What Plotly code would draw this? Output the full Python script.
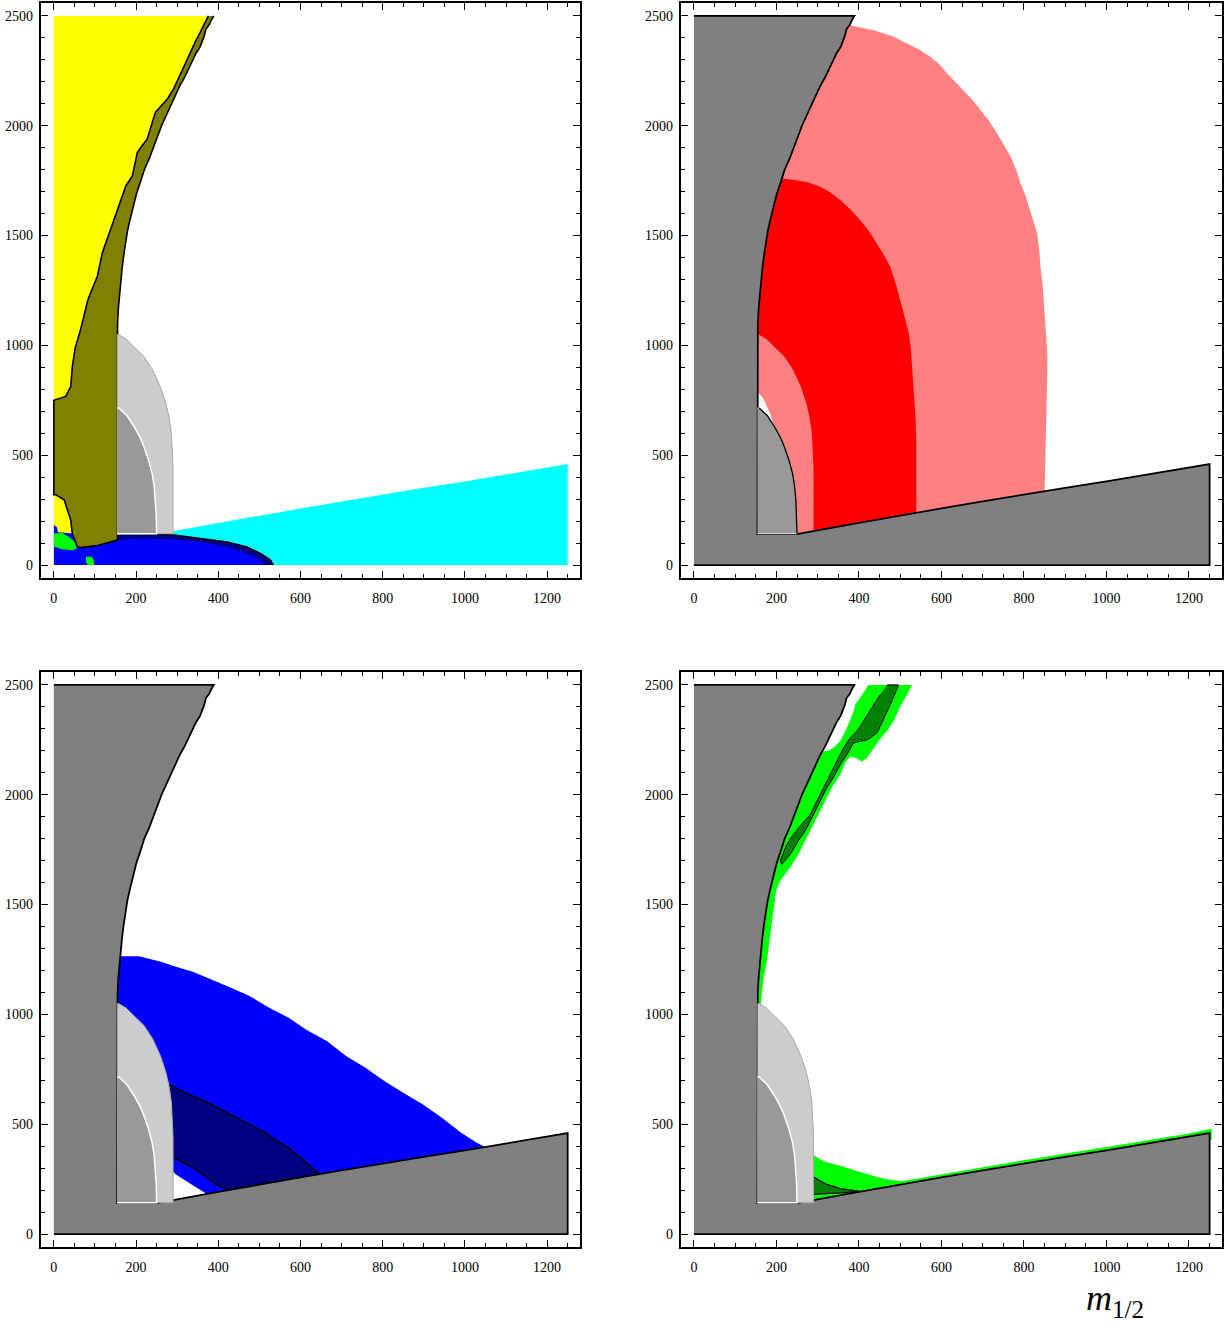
import plotly.graph_objects as go

# ---------------- tick labels ----------------
x_ticks = [0, 200, 400, 600, 800, 1000, 1200]
y_ticks = [0, 500, 1000, 1500, 2000, 2500]

# ---------------- shared boundaries ----------------
# edge of the region without electroweak symmetry breaking (top -> bottom)
ewsb_x = [389, 383, 378, 370, 366, 356, 346, 335, 326, 318, 306, 298, 284, 272, 262, 252,
          243, 232, 220, 210, 201, 193, 185, 179, 174, 170, 166, 163, 160, 157, 155, 154]
ewsb_y = [2500, 2480, 2460, 2440, 2410, 2360, 2330, 2290, 2250, 2220, 2180, 2150, 2090, 2040, 2000, 1950,
          1910, 1850, 1800, 1740, 1690, 1630, 1570, 1520, 1460, 1410, 1350, 1300, 1240, 1170, 1100, 1050]

# edge of the stau-LSP wedge (left -> right)
stau_x = [250, 300, 400, 500, 600, 700, 800, 900, 1000, 1100, 1200, 1250]
stau_y = [141, 158, 192, 226, 258, 290, 322, 352, 381, 413, 444, 460]

# light-grey and mid-grey excluded zones
lg_x = [154, 158, 175, 195, 219, 240, 259, 272, 280, 286, 288, 290, 290, 154]
lg_y = [1049, 1049, 1030, 995, 950, 890, 813, 740, 677, 600, 525, 440, 143, 143]
mg_x = [154, 158, 178, 195, 210, 219, 230, 239, 244, 247, 249, 250, 154]
mg_y = [715, 715, 680, 631, 580, 540, 480, 418, 360, 297, 230, 143, 143]

# ---------------- panel 1 (top left) ----------------
olive_left_x = [376, 366, 356, 346, 336, 322, 308, 292, 276, 262, 247, 237, 227, 215, 203, 191, 175,
                158, 138, 118, 106, 90, 83, 65, 52, 45, 41, 29, 5, 0, 0, 5, 25, 37, 41, 45, 57]
olive_left_y = [2500, 2460, 2425, 2390, 2349, 2290, 2228, 2170, 2121, 2090, 2061, 2000, 1939, 1910, 1878, 1772, 1726,
                1635, 1528, 1422, 1316, 1240, 1209, 1072, 990, 905, 813, 768, 753, 750, 320, 320, 297, 220, 205, 144, 83]
olive_bottom_x = [66, 106, 155]
olive_bottom_y = [80, 89, 114]

blue_tl_x = [0, 0, 7, 10, 45, 57, 66, 106, 155, 211, 292, 357, 422, 470, 503, 513]
blue_tl_y = [0, 182, 175, 150, 144, 83, 80, 89, 114, 121, 117, 105, 83, 53, 23, 0]
navy_tl_x = [155, 211, 292, 357, 422, 470, 503, 527, 534]
navy_tl_y = [147, 144, 137, 121, 105, 83, 53, 23, 0]
green_tl_x = [0, 8, 20, 35, 48, 58, 52, 45, 20, 0]
green_tl_y = [144, 146, 146, 130, 112, 80, 72, 68, 72, 85]
speck_x = [78, 92, 97, 98, 82, 78]
speck_y = [38, 38, 25, 0, 0, 15]

# ---------------- panel 2 (top right) ----------------
pink_x = [154, 154, 375, 436, 480, 517, 548, 573, 596, 614, 634, 654, 675, 695, 716, 735, 752, 768, 781,
          792, 803, 812, 822, 832, 837, 840, 845, 848, 851, 853, 856, 857, 856, 855, 853, 850, 850, 154]
pink_y = [0, 2458, 2458, 2435, 2408, 2375, 2345, 2314, 2278, 2238, 2200, 2162, 2118, 2071, 2020, 1965, 1912, 1859, 1800,
          1737, 1685, 1631, 1570, 1510, 1435, 1358, 1282, 1206, 1130, 1055, 980, 903, 827, 751, 599, 341, 0, 0]
red_x = [154, 154, 213, 249, 280, 306, 332, 355, 380, 403, 425, 444, 461, 476, 489, 500, 511, 521, 526, 529,
         533, 537, 539, 539, 539, 154]
red_y = [0, 1760, 1760, 1752, 1740, 1722, 1695, 1661, 1618, 1570, 1518, 1464, 1411, 1358, 1282, 1206, 1130, 1055, 980, 903,
         790, 675, 560, 447, 0, 0]
sliver_x = [154, 154, 168, 185, 195, 158]
sliver_y = [715, 790, 760, 690, 631, 715]

# ---------------- panel 3 (bottom left) ----------------
blue_bl_x = [154, 160, 207, 263, 291, 338, 393, 431, 477, 524, 571, 617, 664, 711, 757, 804,
             850, 897, 944, 990, 1028, 1051, 1051, 154]
blue_bl_y = [1265, 1265, 1265, 1239, 1220, 1194, 1152, 1121, 1083, 1030, 985, 927, 879, 811, 758, 697,
             644, 591, 530, 462, 417, 394, 0, 0]
navy_up_x = [265, 272, 319, 375, 421, 468, 515, 543, 571, 599, 627, 648]
navy_up_y = [689, 689, 644, 598, 553, 508, 462, 424, 394, 348, 305, 272]
navy_lo_x = [265, 291, 338, 366, 394, 425]
navy_lo_y = [348, 348, 303, 265, 227, 200]
white_bl_x = [290, 296, 340, 378, 378, 290]
white_bl_y = [285, 273, 220, 176, 140, 140]

# ---------------- panel 4 (bottom right) ----------------
lime_x = [423, 529, 515, 500, 484, 468, 450, 436, 420, 407, 395, 380, 368, 355, 334, 314, 294, 274,
          253, 233, 209, 199, 193, 185, 177, 168, 162, 140, 140, 326, 338, 355, 371, 387, 391, 403]
lime_y = [2500, 2500, 2450, 2400, 2335, 2290, 2250, 2215, 2170, 2150, 2165, 2175, 2150, 2093, 2032, 1956, 1880, 1804,
          1728, 1668, 1607, 1562, 1471, 1365, 1244, 1153, 1046, 1046, 2190, 2199, 2214, 2244, 2305, 2380, 2411, 2441]
dkgreen_x = [468, 496, 480, 460, 444, 423, 403, 387, 371, 355, 338, 322, 306, 290, 274, 253, 233, 213,
             209, 225, 241, 261, 282, 298, 314, 330, 347, 363, 379, 395, 411, 427, 452]
dkgreen_y = [2500, 2500, 2426, 2350, 2282, 2252, 2244, 2236, 2183, 2138, 2077, 2032, 1971, 1910, 1850, 1789, 1728, 1683,
             1698, 1774, 1819, 1865, 1910, 1971, 2032, 2093, 2153, 2214, 2259, 2289, 2335, 2380, 2456]
lime_low_x = [280, 286, 314, 355, 395, 436, 468, 510, 510, 280]
lime_low_y = [368, 363, 332, 311, 287, 264, 250, 240, 150, 150]
band_x = [440, 600, 800, 1000, 1200, 1255, 1255, 440]
band_y = [220, 272, 336, 396, 458, 480, 430, 190]
tri_x = [286, 320, 355, 403, 355, 320, 286]
tri_y = [264, 228, 207, 195, 188, 185, 181]

# ---------------- colours ----------------
C_GRAY = "#808080"
C_LG = "#cccccc"
C_MG = "#999999"
C_YEL = "#ffff00"
C_OLIVE = "#808000"
C_CYAN = "#00ffff"
C_BLUE = "#0000ff"
C_NAVY = "#000080"
C_PINK = "#ff8080"
C_RED = "#ff0000"
C_LIME = "#00ff00"
C_DKG = "#008000"

fig = go.Figure()


def poly(xs, ys, color, panel, edge=None, width=0.0):
    sfx = "" if panel == 1 else str(panel)
    fig.add_trace(go.Scatter(
        x=list(xs), y=list(ys), mode="lines", fill="toself", fillcolor=color,
        line=dict(color=edge if edge else color, width=width if edge else 0),
        hoverinfo="skip", xaxis="x" + sfx, yaxis="y" + sfx))


def curve(xs, ys, panel, color="black", width=1.6):
    sfx = "" if panel == 1 else str(panel)
    fig.add_trace(go.Scatter(
        x=list(xs), y=list(ys), mode="lines", line=dict(color=color, width=width),
        hoverinfo="skip", xaxis="x" + sfx, yaxis="y" + sfx))


# grey excluded polygon: bottom strip + stau wedge + no-EWSB wall
gray_x = [0, 1250] + stau_x[::-1] + [154] + ewsb_x[::-1] + [0]
gray_y = [0, 0] + stau_y[::-1] + [141] + ewsb_y[::-1] + [2500]

# ---- panel 1 ----
poly([0, 0] + olive_left_x + [57], [0, 2500] + olive_left_y + [0], C_YEL, 1)
poly([290] + stau_x[1:] + [1250, 290], [152] + stau_y[1:] + [0, 0], C_CYAN, 1)
poly(navy_tl_x + [155], navy_tl_y + [0], C_NAVY, 1)
poly(blue_tl_x, blue_tl_y, C_BLUE, 1)
curve(navy_tl_x, navy_tl_y, 1, width=1.4)
poly(green_tl_x, green_tl_y, C_LIME, 1)
poly(speck_x, speck_y, C_LIME, 1)
poly(olive_left_x + olive_bottom_x + ewsb_x[::-1], olive_left_y + olive_bottom_y + ewsb_y[::-1],
     C_OLIVE, 1, edge="black", width=1.6)
poly(lg_x, lg_y, C_LG, 1, edge="#a8a8a8", width=1)
poly(mg_x, mg_y, C_MG, 1, edge="white", width=1.5)

# ---- panel 2 ----
poly(pink_x, pink_y, C_PINK, 2)
poly(red_x, red_y, C_RED, 2)
poly(lg_x, lg_y, C_PINK, 2)
poly(sliver_x, sliver_y, "#f4f4f4", 2)
poly(gray_x, gray_y, C_GRAY, 2, edge="black", width=1.8)
poly(mg_x, mg_y, C_MG, 2, edge="#d8d8d8", width=1.2)
curve(mg_x[1:-1], mg_y[1:-1], 2, width=1.4)

# ---- panel 3 ----
poly(blue_bl_x, blue_bl_y, C_BLUE, 3)
poly(navy_up_x + [648, 425] + navy_lo_x[::-1], navy_up_y + [150, 150] + navy_lo_y[::-1], C_NAVY, 3)
curve(navy_up_x, navy_up_y, 3, width=1.4)
curve(navy_lo_x, navy_lo_y, 3, width=1.4)
poly(white_bl_x, white_bl_y, "white", 3)
poly(gray_x, gray_y, C_GRAY, 3, edge="black", width=1.8)
poly(lg_x, lg_y, C_LG, 3, edge="#a8a8a8", width=1)
poly(mg_x, mg_y, C_MG, 3, edge="white", width=1.5)

# ---- panel 4 ----
poly(lime_x, lime_y, C_LIME, 4)
poly(dkgreen_x, dkgreen_y, C_DKG, 4, edge="black", width=1.0)
poly(lime_low_x, lime_low_y, C_LIME, 4)
poly(band_x, band_y, C_LIME, 4)
poly(tri_x, tri_y, C_DKG, 4, edge="black", width=1.2)
poly(gray_x, gray_y, C_GRAY, 4, edge="black", width=1.8)
poly(lg_x, lg_y, C_LG, 4, edge="#a8a8a8", width=1)
poly(mg_x, mg_y, C_MG, 4, edge="white", width=1.5)

# ---------------- axes ----------------
W, H = 1231, 1327
x_minor = list(range(0, 1251, 50))
y_minor = list(range(0, 2501, 100))
tick_font = dict(family="Liberation Serif", size=14, color="black")


def xaxis(left, right, anchor):
    return dict(domain=[left / W, right / W], anchor=anchor, range=[-32, 1280],
                tickmode="array", tickvals=x_ticks, ticktext=[str(v) for v in x_ticks],
                ticks="inside", ticklen=7, tickwidth=1.3, tickcolor="black",
                minor=dict(tickmode="array", tickvals=x_minor, ticks="inside", ticklen=4,
                           tickwidth=1.1, tickcolor="black", showgrid=False),
                showline=True, linecolor="black", linewidth=2, mirror="ticks",
                showgrid=False, zeroline=False, tickfont=tick_font,
                ticklabelstandoff=6, fixedrange=True)


def yaxis(top, bottom, anchor):
    return dict(domain=[1 - bottom / H, 1 - top / H], anchor=anchor, range=[-60, 2560],
                tickmode="array", tickvals=y_ticks, ticktext=[str(v) for v in y_ticks],
                ticks="inside", ticklen=7, tickwidth=1.3, tickcolor="black",
                minor=dict(tickmode="array", tickvals=y_minor, ticks="inside", ticklen=4,
                           tickwidth=1.1, tickcolor="black", showgrid=False),
                showline=True, linecolor="black", linewidth=2, mirror="ticks",
                showgrid=False, zeroline=False, tickfont=tick_font,
                ticklabelstandoff=3, fixedrange=True)


fig.update_layout(
    width=W, height=H, margin=dict(l=0, r=0, t=0, b=0),
    paper_bgcolor="white", plot_bgcolor="white", showlegend=False,
    xaxis=xaxis(40.7, 580, "y"), yaxis=yaxis(2.7, 578.3, "x"),
    xaxis2=xaxis(680.7, 1222, "y2"), yaxis2=yaxis(2.7, 578.3, "x2"),
    xaxis3=xaxis(40.7, 580, "y3"), yaxis3=yaxis(671.7, 1247.3, "x3"),
    xaxis4=xaxis(680.7, 1222, "y4"), yaxis4=yaxis(671.7, 1247.3, "x4"),
    annotations=[dict(text="<i>m</i><sub>1/2</sub>", xref="paper", yref="paper",
                      x=1115 / W, y=1 - 1300 / H, xanchor="center", yanchor="middle",
                      showarrow=False,
                      font=dict(family="Liberation Serif", size=36, color="black"))],
)

fig.write_html("out.html")
